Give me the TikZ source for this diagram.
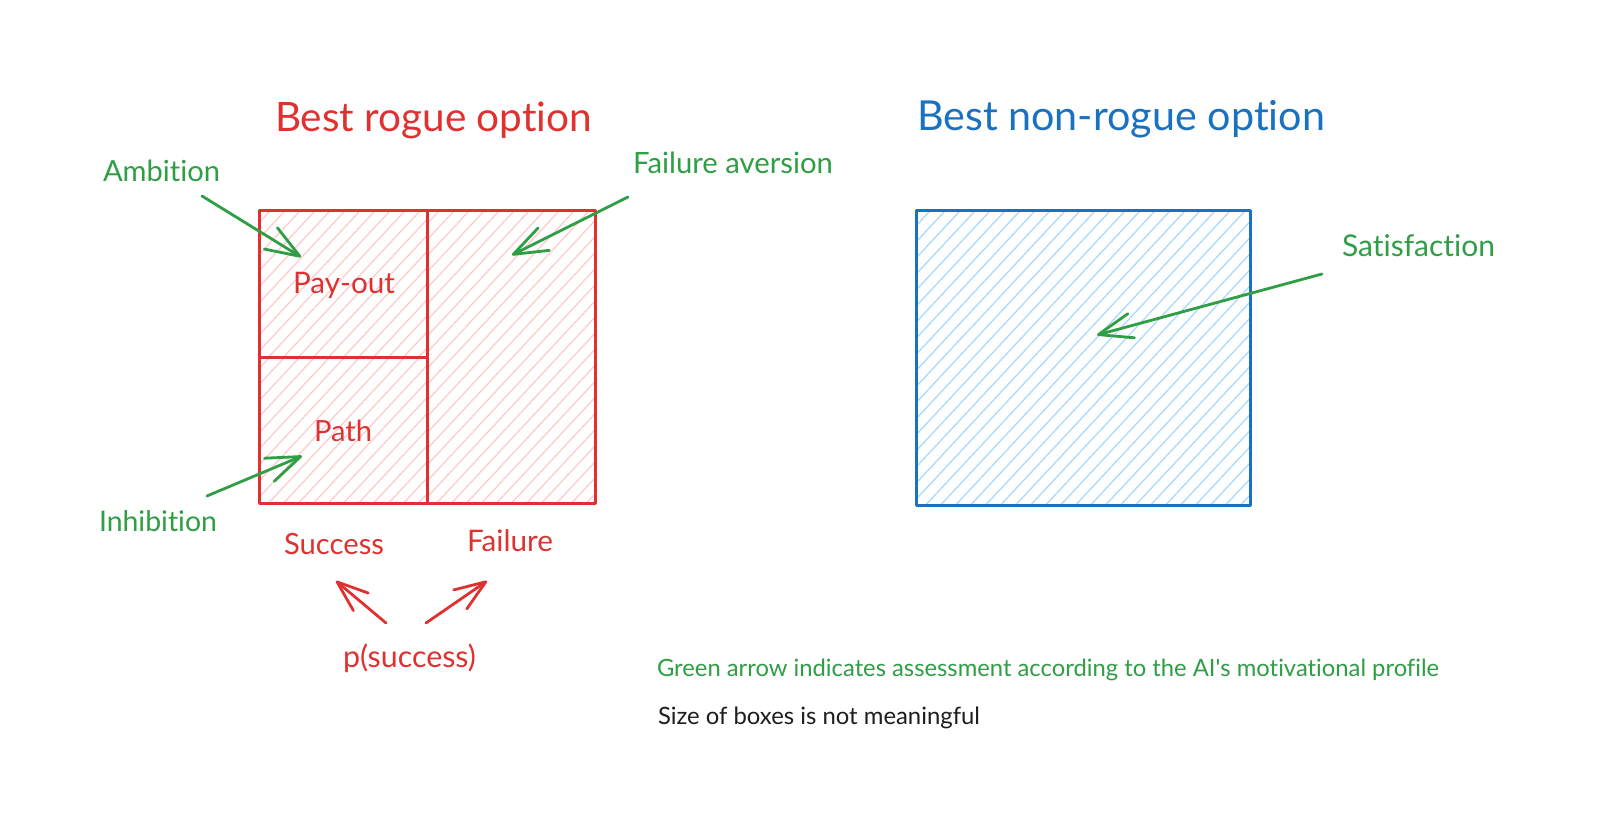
\documentclass[tikz,border=0pt]{standalone}
\usepackage{fontspec}
\defaultfontfeatures{}
\setmainfont{Lato}[Ligatures={NoCommon,NoDiscretionary,NoContextual}]
\usepackage{graphicx}
\usetikzlibrary{arrows.meta}
\definecolor{xred}{HTML}{E03131}
\definecolor{xredh}{HTML}{FFC9C9}
\definecolor{xblue}{HTML}{1971C2}
\definecolor{xblueh}{HTML}{A5D8FF}
\definecolor{xgreen}{HTML}{2F9E44}
\definecolor{xblack}{HTML}{1E1E1E}
\newcommand{\fitw}[2]{\resizebox{#1pt}{!}{#2}}
\newcommand{\straightapos}{\XeTeXglyph\XeTeXcharglyph"0027\relax}
\newcommand{\hatchrect}[5]{%
  \begin{scope}
    \clip (#1,#2) rectangle (#3,#4);
    \foreach \k in {0,...,60}{\draw[#5, line width=1.2pt] ({#1-430+15*\k},{#4+5}) -- ++(430,-461);}
  \end{scope}}
\begin{document}
\begin{tikzpicture}[x=1pt,y=-1pt,
  txt/.style={inner sep=0pt, outer sep=0pt, anchor=base west, font=\fontsize{20}{24}\selectfont},
  redbox/.style={draw=xred, line width=3pt, line join=round, inner sep=0pt, outer sep=0pt, anchor=north west},
  bluebox/.style={draw=xblue, line width=3pt, line join=round, inner sep=0pt, outer sep=0pt, anchor=north west},
  garrow/.style={draw=xgreen, line width=2.8pt, line cap=round, -{Straight Barb[length=34pt, width=25pt, round]}},
  rarrow/.style={draw=xred, line width=2.8pt, line cap=round, -{Straight Barb[length=31pt, width=23pt, round]}}]
\useasboundingbox (0,0) rectangle (1600,834);
\fill[white] (0,0) rectangle (1600,834);

% hatching
\hatchrect{259}{211}{427}{357}{xredh}
\hatchrect{259}{357}{427}{503}{xredh}
\hatchrect{427}{211}{595}{503}{xredh}
\hatchrect{916}{211}{1250}{505}{xblueh}

% boxes
\node[redbox, minimum width=168pt, minimum height=146pt] (payoutbox) at (259,211) {};
\node[redbox, minimum width=168pt, minimum height=146pt] (pathbox) at (259,357) {};
\node[redbox, minimum width=168pt, minimum height=292pt] (failbox) at (427,211) {};
\node[bluebox, minimum width=334pt, minimum height=294pt] (bluebox) at (916,211) {};

% titles
\node[txt, text=xred] (t1) at (275,132) {\fitw{317}{Best rogue option}};
\node[txt, text=xblue] (t2) at (917,131) {\fitw{408}{Best non-rogue option}};

% green labels
\node[txt, text=xgreen] (amb) at (103,182) {\fitw{117}{Ambition}};
\node[txt, text=xgreen] (fav) at (633,174) {\fitw{200}{Failure aversion}};
\node[txt, text=xgreen] (sat) at (1342,257) {\fitw{153}{Satisfaction}};
\node[txt, text=xgreen] (inh) at (99,531) {\fitw{118}{Inhibition}};

% red labels
\node[txt, text=xred] (pay) at (293,293) {\fitw{102}{Pay-out}};
\node[txt, text=xred] (path) at (314,441) {\fitw{58}{Path}};
\node[txt, text=xred] (succ) at (284,554) {\fitw{100}{Success}};
\node[txt, text=xred] (fail) at (467,551) {\fitw{86}{Failure}};
\node[txt, text=xred] (psucc) at (343,667) {\fitw{133}{p(success)}};

% notes
\node[txt, text=xgreen] (note1) at (657,676) {\fitw{782}{Green arrow indicates assessment according to the AI\straightapos s motivational profile}};
\node[txt, text=xblack] (note2) at (658,724) {\fitw{322}{Size of boxes is not meaningful}};

% arrow end points
\coordinate (ambT) at (202,196);  \coordinate (ambH) at (301,257);
\coordinate (favT) at (628,197);  \coordinate (favH) at (512,255);
\coordinate (inhT) at (207,496);  \coordinate (inhH) at (302,456);
\coordinate (satT) at (1322,274); \coordinate (satH) at (1097,335);
\coordinate (sucT) at (386,623);  \coordinate (sucH) at (336,581);
\coordinate (faiT) at (426,623);  \coordinate (faiH) at (487,581);

\draw[garrow] (ambT) -- (ambH);
\draw[garrow] (favT) -- (favH);
\draw[garrow] (inhT) -- (inhH);
\draw[garrow] (satT) -- (satH);
\draw[rarrow] (sucT) -- (sucH);
\draw[rarrow] (faiT) -- (faiH);
\end{tikzpicture}
\end{document}
